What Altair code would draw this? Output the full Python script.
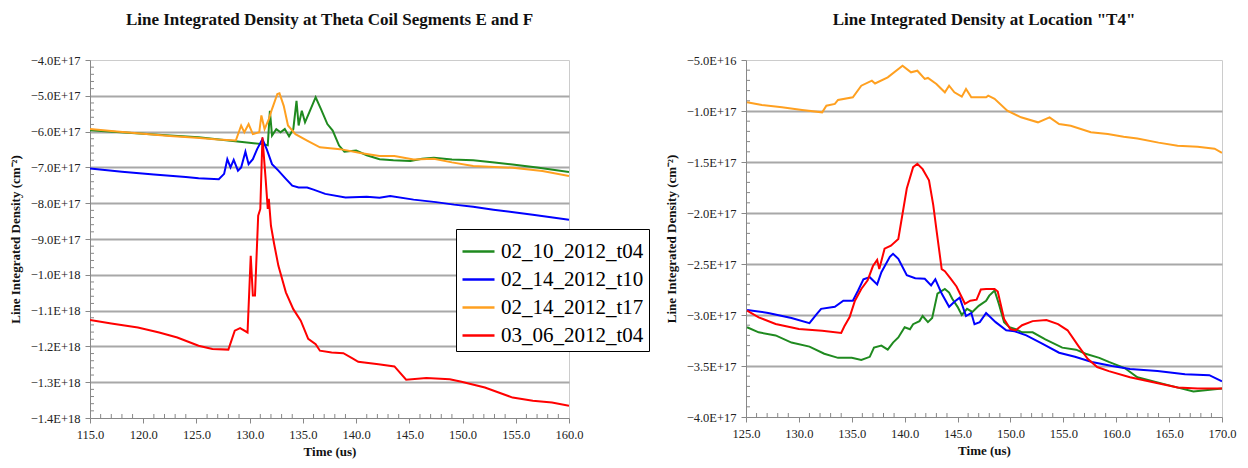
import altair as alt
import pandas as pd

SERIES = ["02_10_2012_t04", "02_14_2012_t10", "02_14_2012_t17", "03_06_2012_t04"]
COLORS = ["#1f8a1f", "#0000ff", "#ffa020", "#ff0000"]
UNIT = 1e17  # values below are in units of 1E17 cm^-2

# ---------------- Left panel: Theta Coil Segments E and F ----------------
LG_T = [115.0, 117.5, 120.0, 122.5, 125.2, 128.0, 131.2, 131.7, 131.9, 132.1, 132.5, 132.9, 133.3, 133.7, 134.1,
        134.4, 134.6, 134.9, 135.2, 135.6, 136.2, 136.7, 137.3, 137.8, 138.4, 138.9, 140.0, 141.0, 142.2, 143.5,
        145.1, 146.2, 147.3, 149.0, 151.0, 153.0, 154.7, 157.0, 160.0]
LG_V = [-5.96, -6.01, -6.06, -6.11, -6.16, -6.25, -6.35, -6.38, -5.42, -6.11, -5.93, -6.02, -5.93, -6.13, -5.93,
        -5.14, -5.83, -5.42, -5.74, -5.46, -5.04, -5.37, -5.79, -5.97, -6.39, -6.56, -6.53, -6.66, -6.77, -6.80,
        -6.82, -6.76, -6.73, -6.78, -6.80, -6.86, -6.92, -7.00, -7.13]

LB_T = [115.0, 118.0, 121.0, 124.0, 125.2, 127.1, 127.6, 127.9, 128.2, 128.5, 128.9, 129.2, 129.6, 129.9, 130.3,
        130.7, 131.2, 131.6, 132.1, 132.7, 133.4, 134.0, 134.6, 135.4, 136.0, 137.1, 139.0, 141.0, 142.2, 143.2,
        145.4, 147.5, 149.2, 151.0, 152.9, 154.8, 156.6, 158.3, 160.0]
LB_V = [-7.03, -7.12, -7.20, -7.27, -7.30, -7.33, -7.18, -6.77, -7.00, -6.79, -7.09, -7.00, -6.56, -6.91, -6.77,
        -6.49, -6.21, -6.49, -6.91, -7.09, -7.32, -7.51, -7.56, -7.56, -7.62, -7.74, -7.84, -7.82, -7.85, -7.80,
        -7.90, -7.97, -8.04, -8.10, -8.18, -8.25, -8.32, -8.39, -8.46]

LO_T = [115.0, 117.5, 120.0, 122.5, 125.0, 127.0, 128.7, 129.2, 129.5, 129.9, 130.3, 130.9, 131.1, 131.4, 131.8,
        132.1, 132.6, 132.8, 133.2, 133.6, 134.3, 135.4, 136.6, 138.5, 140.4, 142.2, 143.6, 145.4, 147.3, 149.0,
        151.0, 154.7, 157.5, 160.0]
LO_V = [-5.93, -6.00, -6.06, -6.12, -6.17, -6.22, -6.25, -5.83, -6.02, -5.79, -6.07, -6.02, -5.55, -5.93, -5.65,
        -5.37, -4.95, -4.93, -5.28, -5.83, -6.07, -6.25, -6.44, -6.49, -6.60, -6.68, -6.68, -6.78, -6.76, -6.86,
        -6.96, -7.01, -7.10, -7.24]

LR_T = [115.0, 117.0, 119.5, 121.5, 123.2, 125.2, 126.5, 128.0, 128.6, 129.1, 129.8, 130.1, 130.3, 130.5, 130.8,
        131.0, 131.2, 131.5, 131.7, 131.8, 132.0, 132.3, 132.7, 133.4, 134.1, 134.8, 135.5, 136.2, 136.6, 137.7,
        138.8, 139.7, 140.2, 142.1, 143.6, 144.7, 146.6, 148.8, 149.9, 152.1, 154.7, 156.6, 158.4, 160.0]
LR_V = [-11.26, -11.36, -11.47, -11.61, -11.75, -11.98, -12.07, -12.09, -11.56, -11.49, -11.61, -9.47, -10.58,
        -10.58, -8.35, -8.16, -6.16, -7.32, -8.16, -7.88, -8.63, -9.14, -9.75, -10.49, -10.96, -11.28, -11.79,
        -11.94, -12.12, -12.17, -12.19, -12.34, -12.43, -12.50, -12.56, -12.93, -12.88, -12.92, -12.99, -13.15,
        -13.43, -13.52, -13.57, -13.66]

# ---------------- Right panel: Location "T4" ----------------
RG_T = [125.1, 126.2, 127.8, 129.3, 131.0, 132.4, 133.7, 135.0, 135.9, 136.7, 137.1, 137.8, 138.4, 138.9, 139.4,
        140.0, 140.5, 140.8, 141.4, 141.7, 142.2, 142.6, 143.1, 143.8, 144.2, 144.5, 145.0, 145.4, 145.9, 146.4,
        147.0, 147.7, 148.0, 148.5, 148.9, 149.4, 149.9, 150.5, 151.1, 152.1, 153.3, 154.9, 156.2, 157.1, 158.4,
        159.3, 160.8, 162.0, 165.0, 167.3, 170.0]
RG_V = [-3.12, -3.17, -3.20, -3.27, -3.31, -3.38, -3.42, -3.42, -3.44, -3.41, -3.32, -3.30, -3.34, -3.27, -3.22,
        -3.12, -3.14, -3.09, -3.06, -3.01, -3.07, -3.03, -2.79, -2.745, -2.78, -2.84, -2.92, -3.00, -2.94, -2.97,
        -2.91, -2.86, -2.81, -2.76, -2.89, -3.07, -3.12, -3.14, -3.17, -3.17, -3.24, -3.32, -3.34, -3.38, -3.42,
        -3.46, -3.52, -3.61, -3.69, -3.75, -3.72]

RB_T = [125.1, 127.1, 129.3, 131.0, 131.7, 132.1, 133.4, 134.2, 135.1, 135.6, 136.1, 136.7, 137.4, 137.8, 138.6,
        138.9, 139.4, 140.2, 141.0, 141.9, 142.5, 142.9, 143.5, 144.2, 144.7, 145.2, 145.8, 146.3, 146.6, 147.1,
        147.7, 148.6, 149.6, 150.4, 151.5, 153.0, 154.6, 156.1, 157.7, 159.6, 161.3, 163.9, 166.5, 168.8, 170.0]
RB_V = [-2.95, -2.98, -3.03, -3.08, -2.99, -2.94, -2.92, -2.86, -2.86, -2.76, -2.65, -2.63, -2.70, -2.58, -2.43,
        -2.40, -2.45, -2.61, -2.64, -2.645, -2.71, -2.65, -2.79, -2.92, -2.87, -2.83, -3.01, -2.98, -3.09, -3.07,
        -2.98, -3.07, -3.15, -3.16, -3.20, -3.28, -3.37, -3.41, -3.46, -3.50, -3.53, -3.55, -3.58, -3.59, -3.65]

RO_T = [125.1, 126.5, 128.4, 130.3, 132.2, 132.6, 133.4, 133.7, 135.1, 135.9, 136.9, 137.2, 138.4, 139.8, 140.6,
        141.2, 141.9, 142.2, 143.0, 143.8, 144.2, 144.7, 145.4, 145.8, 146.3, 147.7, 147.9, 148.5, 149.7, 151.0,
        152.6, 153.7, 154.6, 155.7, 157.6, 159.2, 160.7, 162.0, 164.0, 165.8, 167.7, 169.3, 170.0]
RO_V = [-0.915, -0.941, -0.964, -0.990, -1.013, -0.948, -0.930, -0.892, -0.866, -0.752, -0.703, -0.730, -0.670,
        -0.556, -0.621, -0.605, -0.686, -0.676, -0.735, -0.817, -0.752, -0.817, -0.860, -0.784, -0.866, -0.866,
        -0.850, -0.880, -0.997, -1.062, -1.111, -1.062, -1.127, -1.144, -1.209, -1.225, -1.252, -1.27, -1.31,
        -1.34, -1.35, -1.37, -1.41]

RR_T = [125.1, 126.2, 127.8, 130.0, 132.2, 134.0, 134.3, 134.8, 135.3, 135.9, 136.5, 137.0, 137.4, 137.6, 138.1,
        138.7, 139.4, 140.2, 140.8, 141.2, 141.7, 142.3, 142.7, 143.0, 143.5, 143.8, 144.4, 144.9, 145.7, 146.2,
        146.8, 147.2, 147.7, 148.5, 148.8, 149.4, 150.0, 150.5, 151.1, 152.1, 153.4, 154.5, 155.4, 156.4, 157.3,
        158.2, 159.3, 161.3, 163.5, 165.8, 167.7, 170.0]
RR_V = [-2.958, -3.023, -3.088, -3.137, -3.154, -3.176, -3.11, -3.02, -2.86, -2.745, -2.66, -2.52, -2.46, -2.55,
        -2.35, -2.32, -2.255, -1.76, -1.55, -1.517, -1.57, -1.68, -1.92, -2.16, -2.55, -2.57, -2.65, -2.72, -2.89,
        -2.86, -2.85, -2.75, -2.745, -2.745, -2.77, -3.04, -3.14, -3.15, -3.10, -3.06, -3.05, -3.09, -3.15, -3.30,
        -3.43, -3.51, -3.55, -3.61, -3.66, -3.71, -3.72, -3.72]

# ---------------- Axis ticks ----------------
LEFT_X_TICKS = [115, 120, 125, 130, 135, 140, 145, 150, 155, 160]
RIGHT_X_TICKS = [125, 130, 135, 140, 145, 150, 155, 160, 165, 170]
LEFT_Y_TICKS = [-4e17, -5e17, -6e17, -7e17, -8e17, -9e17, -1.0e18, -1.1e18, -1.2e18, -1.3e18, -1.4e18]
RIGHT_Y_TICKS = [-5e16, -1.0e17, -1.5e17, -2.0e17, -2.5e17, -3.0e17, -3.5e17, -4.0e17]
LEFT_X_MINOR = [t for t in range(115, 161) if t % 5 != 0]
RIGHT_X_MINOR = [t for t in range(125, 171) if t % 5 != 0]
LEFT_Y_MINOR = [m * 2e16 for m in range(-70, -19) if m % 5 != 0]
RIGHT_Y_MINOR = [m * 1e16 for m in range(-40, -4) if m % 5 != 0]

SERIF = "Liberation Serif"
AXIS_GRAY = "#888888"


def frame(groups):
    rows = []
    for name, ts, vs in groups:
        for t, v in zip(ts, vs):
            rows.append({"t": t, "v": v * UNIT, "series": name})
    return pd.DataFrame(rows)


def panel(df, title, xdom, ydom, xticks, yticks, xminor, yminor, w, h, legend):
    xscale = alt.Scale(domain=xdom, nice=False, zero=False)
    yscale = alt.Scale(domain=ydom, nice=False, zero=False)
    lo, hi = min(ydom), max(ydom)
    span = hi - lo
    grid_test = f"datum.value < {hi - span * 0.01} && datum.value > {lo + span * 0.01}"
    xaxis = alt.Axis(values=xticks, format=".1f", title="Time (us)", grid=False, tickSize=5,
                     tickColor=AXIS_GRAY, domainColor=AXIS_GRAY, labelPadding=5, titlePadding=5,
                     labelFont=SERIF, labelFontSize=12.5, labelColor="#222222", labelFlush=False,
                     titleFont=SERIF, titleFontSize=13, titleFontWeight="bold", titleColor="#111111")
    yaxis = alt.Axis(values=yticks, labelExpr="upper(format(datum.value, '.1e'))",
                     title="Line Integrated Density (cm\u207b\u00b2)", grid=True, gridColor="#a8a8a8",
                     gridWidth=1.8, gridOpacity={"condition": {"test": grid_test, "value": 1}, "value": 0},
                     tickSize=5, tickColor=AXIS_GRAY, domainColor=AXIS_GRAY, labelPadding=5,
                     titlePadding=8, labelOverlap=False, labelFont=SERIF, labelFontSize=12.5,
                     labelColor="#222222", titleFont=SERIF, titleFontSize=13, titleFontWeight="bold",
                     titleColor="#111111")
    color = alt.Color("series:N", scale=alt.Scale(domain=SERIES, range=COLORS), legend=legend)

    lines = alt.Chart(df).mark_line(strokeWidth=2, clip=True).encode(
        x=alt.X("t:Q", scale=xscale, axis=xaxis),
        y=alt.Y("v:Q", scale=yscale, axis=yaxis),
        color=color,
        detail="series:N",
    )
    ymin = alt.Chart(pd.DataFrame({"v": yminor})).mark_rule(color=AXIS_GRAY, strokeWidth=1).encode(
        y=alt.Y("v:Q", scale=yscale, axis=yaxis), x=alt.value(0), x2=alt.value(4))
    xmin = alt.Chart(pd.DataFrame({"t": xminor})).mark_rule(color=AXIS_GRAY, strokeWidth=1).encode(
        x=alt.X("t:Q", scale=xscale, axis=xaxis), y=alt.value(h - 4), y2=alt.value(h))
    return alt.layer(ymin, xmin, lines).properties(
        width=w, height=h,
        title=alt.TitleParams(text=title, font=SERIF, fontSize=17, fontWeight="bold", color="#111111",
                              offset=25, anchor="middle", frame="group"))


left_df = frame([(SERIES[0], LG_T, LG_V), (SERIES[1], LB_T, LB_V), (SERIES[2], LO_T, LO_V), (SERIES[3], LR_T, LR_V)])
right_df = frame([(SERIES[0], RG_T, RG_V), (SERIES[1], RB_T, RB_V), (SERIES[2], RO_T, RO_V), (SERIES[3], RR_T, RR_V)])

legend = alt.Legend(orient="none", legendX=366, legendY=169, title=None, fillColor="white", strokeColor="black",
                    padding=5, symbolType="stroke", symbolSize=1024, symbolStrokeWidth=2.5, labelFont=SERIF,
                    labelFontSize=21, labelColor="black", rowPadding=0, labelOffset=5, labelLimit=300)

left = panel(left_df, "Line Integrated Density at Theta Coil Segments E and F", [115, 160], [-1.4e18, -4e17],
             LEFT_X_TICKS, LEFT_Y_TICKS, LEFT_X_MINOR, LEFT_Y_MINOR, 479, 358, legend)
right = panel(right_df, 'Line Integrated Density at Location "T4"', [125, 170], [-4e17, -5e16],
              RIGHT_X_TICKS, RIGHT_Y_TICKS, RIGHT_X_MINOR, RIGHT_Y_MINOR, 476, 357, None)

chart = alt.hconcat(left, right, spacing=14).resolve_scale(color="independent").properties(
    padding={"left": 0, "top": 2, "right": 0, "bottom": 0},
    background="white",
).configure_view(stroke="#cccccc", strokeWidth=1)

chart.save("out.html", embed_options={"renderer": "svg", "actions": False})
